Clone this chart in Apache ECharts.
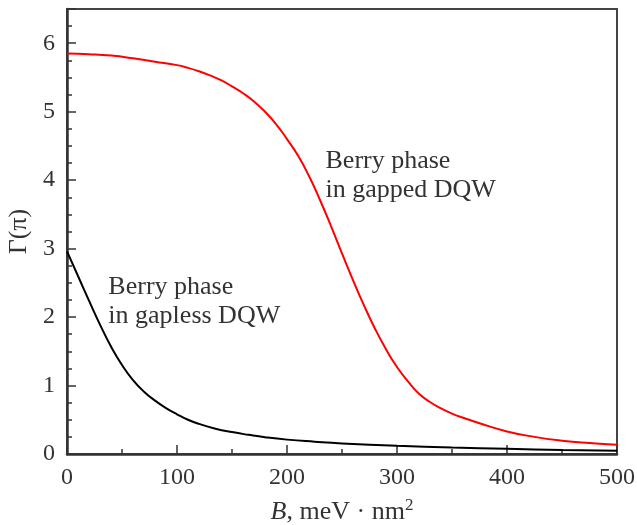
<!DOCTYPE html>
<html>
<head>
<meta charset="utf-8">
<script src="https://cdn.jsdelivr.net/npm/echarts@6/dist/echarts.min.js"></script>
<style>
  html, body { margin: 0; padding: 0; background: #fff; }
  #chart { width: 637px; height: 525px; }
</style>
</head>
<body>
<div id="chart"></div>
<script>
// gapped DQW (red)
const gappedB = [0, 20, 40, 60, 80, 100, 110, 120, 130, 140, 150, 160, 170, 180, 190, 200, 210, 220, 230, 240, 250, 260, 270, 280, 290, 300, 310, 320, 330, 340, 350, 360, 375, 400, 425, 450, 475, 500];
const gappedG = [5.85, 5.84, 5.82, 5.78, 5.73, 5.68, 5.64, 5.59, 5.53, 5.46, 5.37, 5.27, 5.15, 5.0, 4.82, 4.6, 4.36, 4.06, 3.71, 3.33, 2.93, 2.54, 2.17, 1.83, 1.53, 1.27, 1.06, 0.88, 0.76, 0.665, 0.59, 0.53, 0.45, 0.33, 0.25, 0.195, 0.16, 0.135];
// gapless DQW (black)
const gaplessB = [0, 10, 20, 30, 40, 50, 60, 70, 80, 90, 100, 110, 120, 135, 150, 165, 180, 200, 225, 250, 300, 350, 400, 450, 500];
const gaplessG = [2.96, 2.6, 2.24, 1.89, 1.57, 1.3, 1.08, 0.91, 0.78, 0.67, 0.58, 0.5, 0.44, 0.37, 0.32, 0.28, 0.245, 0.21, 0.18, 0.155, 0.12, 0.095, 0.075, 0.06, 0.048];

const yTicks = [0, 1, 2, 3, 4, 5, 6];
const gappedLabelAt = [235, 4.07];
const gaplessLabelAt = [37.6, 2.23];

const font = "Liberation Serif";
const textColor = "#333";

const chart = echarts.init(document.getElementById("chart"));

const pairs = (xs, ys) => xs.map((x, i) => [x, ys[i]]);

const curveLabel = (text) => ({
  symbol: "circle",
  symbolSize: 0,
  label: {
    show: true,
    position: "right",
    distance: 0,
    formatter: text,
    fontFamily: font,
    fontSize: 26,
    lineHeight: 29,
    color: textColor,
  },
});

const option = {
  animation: false,
  grid: {
    left: 67,
    right: 20,
    top: 9,
    bottom: 71,
    show: true,
    borderColor: "#444",
    borderWidth: 2,
    containLabel: false,
    outerBoundsMode: "none",
  },
  xAxis: {
    type: "value",
    min: 0,
    max: 500,
    interval: 100,
    name: "{i|B}, meV · nm{sup|2}",
    nameLocation: "middle",
    nameGap: 43,
    nameTextStyle: {
      fontFamily: font,
      fontSize: 26,
      color: textColor,
      rich: {
        i: { fontFamily: font, fontSize: 26, fontStyle: "italic", color: textColor },
        sup: { fontFamily: font, fontSize: 17, color: textColor, verticalAlign: "bottom", padding: [0, 0, 13, 0] },
      },
    },
    axisLine: { lineStyle: { color: "#333", width: 2.5 } },
    axisTick: { inside: true, length: 9, lineStyle: { color: "#333", width: 1.5 } },
    minorTick: { show: true, splitNumber: 2, length: 5, lineStyle: { color: "#333", width: 1.5 } },
    axisLabel: { fontFamily: font, fontSize: 24, color: textColor, margin: 12 },
    splitLine: { show: false },
  },
  yAxis: [
    {
      type: "value",
      min: 0,
      max: 6.5,
      interval: 1,
      name: "Γ(π)",
      nameLocation: "middle",
      nameRotate: 90,
      nameGap: 31,
      nameTextStyle: { fontFamily: font, fontSize: 26, color: textColor },
      axisLine: { lineStyle: { color: "#333", width: 2.5 } },
      axisTick: { inside: true, length: 9, lineStyle: { color: "#333", width: 1.5 } },
      axisLabel: {
        fontFamily: font,
        fontSize: 24,
        color: textColor,
        margin: 12,
        formatter: (v) => (yTicks.includes(v) ? String(v) : ""),
      },
      splitLine: { show: false },
    },
    {
      // short minor ticks every 0.25
      type: "value",
      min: 0,
      max: 6.5,
      interval: 0.25,
      position: "left",
      axisLine: { show: false },
      axisTick: { inside: true, length: 5, lineStyle: { color: "#333", width: 1.5 } },
      axisLabel: { show: false },
      splitLine: { show: false },
    },
  ],
  series: [
    {
      name: "gapped",
      type: "line",
      data: pairs(gappedB, gappedG),
      smooth: 0.5,
      showSymbol: false,
      lineStyle: { color: "#ff0000", width: 2 },
      markPoint: Object.assign(curveLabel("Berry phase\nin gapped DQW"), {
        data: [{ coord: gappedLabelAt }],
      }),
    },
    {
      name: "gapless",
      type: "line",
      data: pairs(gaplessB, gaplessG),
      smooth: 0.5,
      showSymbol: false,
      lineStyle: { color: "#000", width: 2 },
      markPoint: Object.assign(curveLabel("Berry phase\nin gapless DQW"), {
        data: [{ coord: gaplessLabelAt }],
      }),
    },
  ],
};

chart.setOption(option);
</script>
</body>
</html>
